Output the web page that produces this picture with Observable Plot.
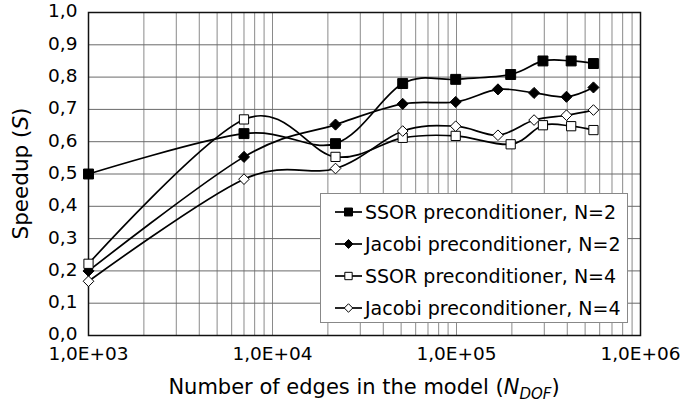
<!DOCTYPE html>
<html>
<head>
<meta charset="utf-8">
<script src="https://cdn.jsdelivr.net/npm/d3@7"></script>
<script src="https://cdn.jsdelivr.net/npm/@observablehq/plot@0.6"></script>
<style>
  html, body { margin: 0; padding: 0; background: #fff; }
  #chart { position: relative; width: 680px; height: 405px; }
</style>
</head>
<body>
<div id="chart"></div>
<script>
// ---- data ----
const seriesNames = [
  "SSOR preconditioner, N=2",
  "Jacobi preconditioner, N=2",
  "SSOR preconditioner, N=4",
  "Jacobi preconditioner, N=4"
];
// x positions (number of edges) for the SSOR and the Jacobi series
const xSSOR   = [1000, 7000, 22000, 51000, 99000, 197000, 295000, 420000, 555000];
const xJacobi = [1000, 7000, 22000, 51000, 99000, 168000, 264000, 396000, 555000];
const ssorN2   = [0.500, 0.625, 0.594, 0.780, 0.793, 0.808, 0.850, 0.850, 0.842];
const jacobiN2 = [0.200, 0.553, 0.653, 0.717, 0.723, 0.762, 0.751, 0.739, 0.768];
const ssorN4   = [0.222, 0.669, 0.553, 0.612, 0.618, 0.592, 0.651, 0.648, 0.636];
const jacobiN4 = [0.168, 0.484, 0.517, 0.633, 0.648, 0.620, 0.667, 0.682, 0.698];

const xTickValues = [1e3, 1e4, 1e5, 1e6];
const xTickLabels = ["1,0E+03", "1,0E+04", "1,0E+05", "1,0E+06"];
const yTickValues = [0, 0.1, 0.2, 0.3, 0.4, 0.5, 0.6, 0.7, 0.8, 0.9, 1.0];
const yTickLabels = ["0,0","0,1","0,2","0,3","0,4","0,5","0,6","0,7","0,8","0,9","1,0"];

// ---- build rows ----
const seriesX = [xSSOR, xJacobi, xSSOR, xJacobi];
const seriesY = [ssorN2, jacobiN2, ssorN4, jacobiN4];
const seriesStyle = [
  {symbol: "square",   r: 5.6, fill: "black"},
  {symbol: "diamond2", r: 5.0, fill: "black"},
  {symbol: "square",   r: 5.2, fill: "white"},
  {symbol: "diamond2", r: 4.8, fill: "white"}
];
const rows = seriesNames.map((name, s) =>
  seriesY[s].map((v, i) => ({series: name, x: seriesX[s][i], y: v})));

// minor gridlines of the log axis (1..9 x 10^k)
const xGrid = [];
for (const dec of [1e3, 1e4, 1e5]) for (let m = 1; m <= 9; m++) xGrid.push(m * dec);
xGrid.push(1e6);

const FONT = "DejaVu Sans, Liberation Sans, Arial, sans-serif";

const marks = [
  Plot.gridX(xGrid, {stroke: "#8a8a8a", strokeOpacity: 1, strokeWidth: 1}),
  Plot.gridY(yTickValues, {stroke: "#6a6a6a", strokeOpacity: 1, strokeWidth: 1}),
  Plot.frame({stroke: "#111", strokeWidth: 1.5}),
  Plot.axisX(xTickValues, {
    tickSize: 0, tickPadding: 11, fontSize: 18.5, label: null,
    tickFormat: d => xTickLabels[xTickValues.indexOf(d)]
  }),
  Plot.axisY(yTickValues, {
    tickSize: 0, tickPadding: 11, fontSize: 18.5, label: null, dy: -1,
    tickFormat: d => yTickLabels[yTickValues.indexOf(d)]
  })
];
rows.forEach((data, s) => {
  marks.push(Plot.line(data, {x: "x", y: "y", curve: "cardinal", tension: 0,
    stroke: "black", strokeWidth: 1.7}));
});
rows.forEach((data, s) => {
  const st = seriesStyle[s];
  marks.push(Plot.dot(data, {x: "x", y: "y", symbol: () => st.symbol, r: st.r,
    fill: st.fill, stroke: "black", strokeWidth: 1}));
});

const plot = Plot.plot({
  width: 680,
  height: 405,
  marginLeft: 88,
  marginRight: 40,
  marginTop: 12,
  marginBottom: 70,
  style: {fontFamily: FONT, background: "white", color: "black"},
  x: {type: "log", domain: [1e3, 1e6], axis: null},
  y: {domain: [0, 1], axis: null},
  symbol: {type: "identity"},
  marks
});
document.getElementById("chart").appendChild(plot);

// ---- axis titles and legend (text with italic/subscript parts) ----
const svg = d3.select(plot);

const yt = svg.append("text")
  .attr("transform", "translate(28,173.5) rotate(-90)")
  .attr("text-anchor", "middle")
  .attr("font-family", FONT)
  .attr("font-size", 21.5)
  .attr("fill", "black");
yt.append("tspan").text("Speedup (");
yt.append("tspan").attr("font-style", "italic").text("S");
yt.append("tspan").text(")");

const xt = svg.append("text")
  .attr("x", 364).attr("y", 394)
  .attr("text-anchor", "middle")
  .attr("font-family", FONT)
  .attr("font-size", 21)
  .attr("fill", "black");
xt.append("tspan").text("Number of edges in the model (");
xt.append("tspan").attr("font-style", "italic").text("N");
xt.append("tspan").attr("font-style", "italic").attr("font-size", 15).attr("dy", 5).text("DOF");
xt.append("tspan").attr("dy", -5).text(")");

// legend
const lg = svg.append("g").attr("transform", "translate(320,193)");
lg.append("rect").attr("x", 0.5).attr("y", 0.5).attr("width", 307).attr("height", 129)
  .attr("fill", "white").attr("stroke", "#888").attr("stroke-width", 1);
const rowY = [19, 51, 83, 115];
seriesNames.forEach((name, s) => {
  const g = lg.append("g").attr("transform", `translate(0,${rowY[s]})`);
  g.append("line").attr("x1", 15).attr("x2", 42).attr("y1", 0).attr("y2", 0)
    .attr("stroke", "black").attr("stroke-width", 1.7);
  const st = seriesStyle[s];
  const sym = st.symbol === "square" ? d3.symbolSquare : d3.symbolDiamond2;
  g.append("path").attr("transform", "translate(28.5,0)")
    .attr("d", d3.symbol(sym, Math.PI * (st.r * 0.8) ** 2)())
    .attr("fill", st.fill).attr("stroke", "black").attr("stroke-width", 1);
  g.append("text").attr("x", 45).attr("y", 0).attr("dy", "0.36em")
    .attr("text-anchor", "start")
    .attr("font-family", FONT).attr("font-size", 19).attr("fill", "black")
    .text(name);
});
</script>
</body>
</html>
